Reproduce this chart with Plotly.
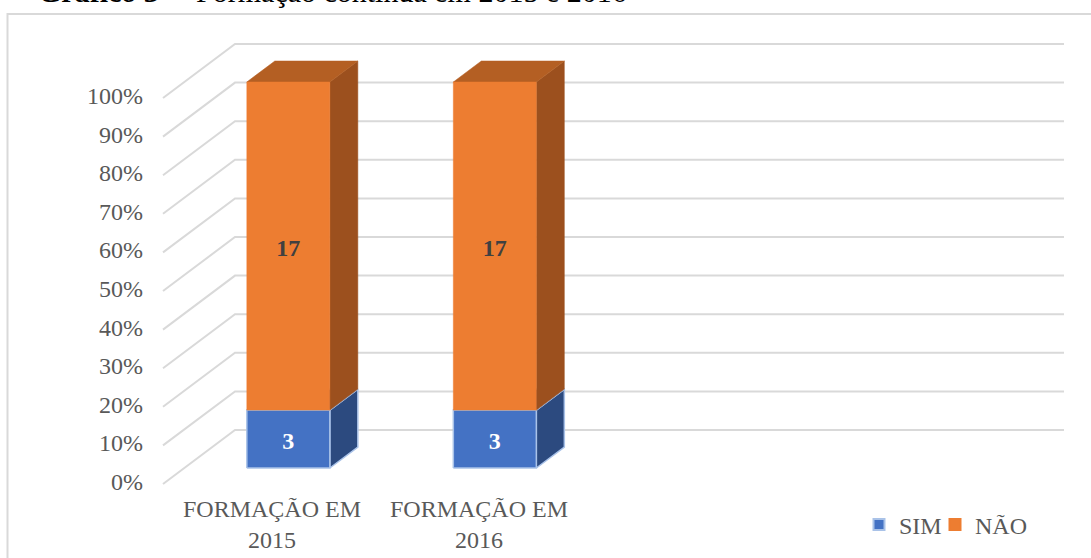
import plotly.graph_objects as go

# ---- data -------------------------------------------------------------
categories = ["FORMAÇÃO EM 2015", "FORMAÇÃO EM 2016"]
series_names = ["SIM", "NÃO"]
sim_counts = [3, 3]
nao_counts = [17, 17]
tick_values = [0, 10, 20, 30, 40, 50, 60, 70, 80, 90, 100]
tick_labels = [f"{t}%" for t in tick_values]
title_bold = "Gráfico 3"
title_rest = "Formação contínua em 2015 e 2016"

# ---- styling ----------------------------------------------------------
FONT = "Liberation Serif, Times New Roman, serif"
GRID = "#D9D9D9"
TXT = "#595959"
front_colors = ["#4472C4", "#ED7D31"]
side_colors = ["#2C4A7F", "#9C501E"]
top_colors = ["#2F5597", "#B45F23"]
edge_colors = ["#A9C2E8", None]
label_colors = ["#FFFFFF", "#404040"]

# pseudo-3D projection in axis units
W, H = 1091, 558
X0, SX = 267.0, 206.5      # px of category 0 at the front plane, px per category
Y0, SY = 484.0, 3.86       # px of 0% at the front plane, px per percent
DX = 72.0 / SX             # x shift across the full depth
DY = 54.0 / SY             # y shift across the full depth
D1, D2 = 16.0 / 54.0, 37.0 / 54.0   # bar front / back depth
HALF = 41.5 / SX           # half bar width
GRID_LEFT = (163.0 - X0) / SX
GRID_RIGHT_BACK = (1064.0 - X0) / SX
LABEL_DROP = 4.0 / SY      # small optical offset for the value labels


def proj(x, y, d):
    return x + d * DX, y + d * DY


def poly(points):
    xs, ys = [], []
    for x, y, d in points + points[:1]:
        px, py = proj(x, y, d)
        xs.append(px)
        ys.append(py)
    return xs, ys


fig = go.Figure()

# gridlines: floor diagonal + back wall line for every tick
gx, gy = [], []
for t in tick_values:
    a = proj(GRID_LEFT, t, 0)
    b = proj(GRID_LEFT, t, 1)
    gx += [a[0], b[0], GRID_RIGHT_BACK, None]
    gy += [a[1], b[1], b[1], None]
fig.add_trace(go.Scatter(x=gx, y=gy, mode="lines", line=dict(color=GRID, width=2),
                         hoverinfo="skip", showlegend=False))

# stacked 100% bars
series = [sim_counts, nao_counts]
label_x, label_y, label_t, label_c = [], [], [], []
for i in range(len(categories)):
    total = sum(s[i] for s in series)
    base = 0.0
    for k, s in enumerate(series):
        share = s[i] / total * 100.0
        y0, y1 = base, base + share
        c = float(i)
        edge = edge_colors[k]
        faces = [
            ([(c + HALF, y0, D1), (c + HALF, y0, D2), (c + HALF, y1, D2), (c + HALF, y1, D1)], side_colors[k]),
            ([(c - HALF, y1, D1), (c - HALF, y1, D2), (c + HALF, y1, D2), (c + HALF, y1, D1)], top_colors[k]),
            ([(c - HALF, y0, D1), (c + HALF, y0, D1), (c + HALF, y1, D1), (c - HALF, y1, D1)], front_colors[k]),
        ]
        for pts, col in faces:
            xs, ys = poly(pts)
            fig.add_trace(go.Scatter(
                x=xs, y=ys, mode="lines", fill="toself", fillcolor=col,
                line=dict(color=edge if edge else col, width=1.5 if edge else 0.5),
                hoverinfo="skip", showlegend=False))
        mx, my = proj(c, (y0 + y1) / 2.0, D1)
        label_x.append(mx)
        label_y.append(my - LABEL_DROP)
        label_t.append(f"<b>{s[i]}</b>")
        label_c.append(label_colors[k])
        base = y1

fig.add_trace(go.Scatter(x=label_x, y=label_y, mode="text", text=label_t,
                         textposition="middle center",
                         textfont=dict(family=FONT, size=24, color=label_c),
                         hoverinfo="skip", showlegend=False))

# value axis labels on the front plane
tick_x = [GRID_LEFT - 20.0 / SX] * len(tick_values)
fig.add_trace(go.Scatter(x=tick_x, y=tick_values, mode="text", text=tick_labels,
                         textposition="middle left",
                         textfont=dict(family=FONT, size=24, color=TXT),
                         hoverinfo="skip", showlegend=False))

# category labels
for i, cat in enumerate(categories):
    head, tail = cat.rsplit(" ", 1)
    fig.add_annotation(x=i + 5.0 / SX, y=-40.0 / SY, xref="x", yref="y",
                       text=f"{head}<br>{tail}", showarrow=False,
                       xanchor="center", yanchor="middle",
                       font=dict(family=FONT, size=24, color=TXT))

# legend entries, one legend box per series
legend_ids = ["legend", "legend2"]
for k, name in enumerate(series_names):
    fig.add_trace(go.Scatter(
        x=[None], y=[None], mode="markers", name=name, legend=legend_ids[k],
        marker=dict(symbol="square", size=11, color=front_colors[k],
                    line=dict(color=edge_colors[k] or front_colors[k], width=2))))

# caption sitting above the chart frame (number, then tab-aligned text)
caption_font = dict(family=FONT, size=30, color="#000000")
fig.add_annotation(x=36.0 / W, y=1, xref="paper", yref="paper",
                   xanchor="left", yanchor="bottom", yshift=-10, showarrow=False,
                   text=f"<b>{title_bold}</b>  –", font=caption_font)
fig.add_annotation(x=194.0 / W, y=1, xref="paper", yref="paper",
                   xanchor="left", yanchor="bottom", yshift=-10, showarrow=False,
                   text=title_rest, font=caption_font)

# chart frame
fig.add_shape(type="rect", xref="paper", yref="paper",
              x0=7.5 / W, x1=1.05, y0=-0.05, y1=1 - 14.0 / H,
              line=dict(color=GRID, width=2), fillcolor="rgba(0,0,0,0)", layer="below")

legend_style = dict(orientation="h", yanchor="middle", xanchor="left",
                    font=dict(family=FONT, size=24, color=TXT),
                    bgcolor="rgba(0,0,0,0)", itemwidth=30)

fig.update_layout(
    width=W, height=H,
    margin=dict(l=0, r=0, t=0, b=0),
    paper_bgcolor="white", plot_bgcolor="white",
    xaxis=dict(visible=False, range=[-X0 / SX, (W - X0) / SX], fixedrange=True),
    yaxis=dict(visible=False, range=[(Y0 - H) / SY, Y0 / SY], fixedrange=True),
    showlegend=True,
    legend=dict(legend_style, x=859.0 / W, y=1 - 525.0 / H),
    legend2=dict(legend_style, x=935.0 / W, y=1 - 525.0 / H),
)

fig.write_html("out.html")
